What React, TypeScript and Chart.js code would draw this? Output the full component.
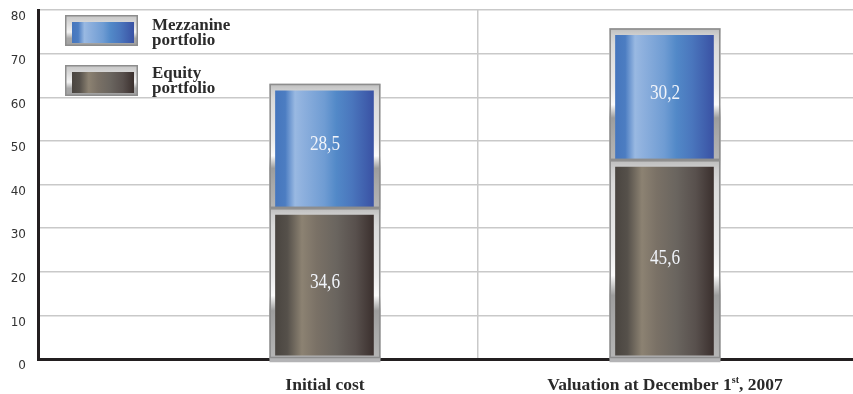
import React, { useEffect, useRef } from 'react';
import { Chart, registerables } from 'chart.js';

Chart.register(...registerables);

// ---- data ----
const categories = ['Initial cost', 'Valuation at December 1st, 2007'];
const equityValues = [34.6, 45.6];
const mezzanineValues = [28.5, 30.2];
const seriesNames = ['Equity portfolio', 'Mezzanine portfolio'];
const equityLegendLines = ['Equity', 'portfolio'];
const mezzanineLegendLines = ['Mezzanine', 'portfolio'];
const yMin = 0;
const yMax = 80;
const yStep = 10;

// ---- layout / style ----
const W = 853;
const H = 394;
const X_MIN = 0.156;
const X_MAX = 2.553;
const X_DIVIDER = 1.4485;
const BAR_W = 111;
const BORDER_L = 6;
const BORDER_R = 7;
const SERIF = '"Liberation Serif", "DejaVu Serif", serif';

type Stops = [number, string][];

const BLUE_STOPS: Stops = [
  [0, '#4676bd'],
  [0.1, '#4c7dc2'],
  [0.2, '#99b9e2'],
  [0.27, '#8fb1de'],
  [0.5, '#6f9cd3'],
  [0.62, '#5289c8'],
  [0.78, '#4a76bd'],
  [1, '#3a52a4'],
];
const EQUITY_STOPS: Stops = [
  [0, '#4a4540'],
  [0.12, '#55504a'],
  [0.27, '#8c8272'],
  [0.42, '#7a7166'],
  [0.62, '#6a655f'],
  [0.82, '#58504d'],
  [1, '#3b302e'],
];
const FRAME_STOPS: Stops = [
  [0, '#bdbdbd'],
  [0.05, '#cfcfcf'],
  [0.12, '#dadada'],
  [0.45, '#ececec'],
  [0.58, '#fbfbfb'],
  [0.68, '#9d9d9d'],
  [0.82, '#a9a9a9'],
  [1, '#b5b5b5'],
];
const LEGEND_FRAME_STOPS: Stops = [
  [0, '#c4c4c4'],
  [0.25, '#d9d9d9'],
  [0.55, '#f2f2f2'],
  [0.75, '#a8a8a8'],
  [1, '#a0a0a0'],
];

const stacked = [equityValues, mezzanineValues];
const fmt = (v: number) => v.toFixed(1).replace('.', ',');

function gradient(c: CanvasRenderingContext2D, x0: number, y0: number, x1: number, y1: number, stops: Stops) {
  const g = c.createLinearGradient(x0, y0, x1, y1);
  stops.forEach(([o, col]) => g.addColorStop(o, col));
  return g;
}

// horizontal metallic fill across the bar's inner face
const fillFor = (stops: Stops) => (ctx: any) => {
  const chart = ctx.chart;
  const xs = chart.scales?.x;
  if (ctx.type !== 'data' || !xs) return stops[0][1];
  const cx = xs.getPixelForValue(ctx.raw.x);
  if (!isFinite(cx)) return stops[0][1];
  return gradient(chart.ctx, cx - BAR_W / 2 + BORDER_L, 0, cx + BAR_W / 2 - BORDER_R, 0, stops);
};

// vertical silver frame for each stacked segment
const frameFor = (ctx: any) => {
  const chart = ctx.chart;
  const ys = chart.scales?.y;
  if (ctx.type !== 'data' || !ys) return '#c0c0c0';
  const di = ctx.datasetIndex;
  const i = ctx.dataIndex;
  let start = 0;
  for (let k = 0; k < di; k++) start += stacked[k][i];
  const end = start + stacked[di][i];
  const top = ys.getPixelForValue(end);
  const bot = ys.getPixelForValue(start);
  if (!isFinite(top) || !isFinite(bot) || top === bot) return '#c0c0c0';
  return gradient(chart.ctx, 0, top, 0, bot, FRAME_STOPS);
};

// outline, foot rim and value label on each segment
const barDecor = {
  id: 'barDecor',
  afterDatasetsDraw(chart: any) {
    const c: CanvasRenderingContext2D = chart.ctx;
    chart.data.datasets.forEach((ds: any, di: number) => {
      const meta = chart.getDatasetMeta(di);
      meta.data.forEach((el: any, i: number) => {
        const { x, y, base, width } = el.getProps(['x', 'y', 'base', 'width'], true);
        const l = x - width / 2;
        const t = Math.min(y, base);
        const b = Math.max(y, base);
        const h = b - t;

        c.save();
        if (di === 0) {
          // the frame's foot sits over the axis line
          c.fillStyle = '#b3b3b5';
          c.fillRect(l, b - 2, width, 6);
        }
        c.strokeStyle = '#8d8d8d';
        c.lineWidth = 1.5;
        c.strokeRect(l + 0.75, t + 0.75, width - 1.5, h - 1.5);
        c.restore();

        c.save();
        c.fillStyle = '#f1f4fa';
        c.font = `21px ${SERIF}`;
        c.textAlign = 'center';
        c.textBaseline = 'middle';
        c.translate(x, t + h / 2 - 1);
        c.scale(0.82, 1);
        c.fillText(fmt(ds.data[i].y), 0, 0);
        c.restore();
      });
    });
  },
};

// category names under the axis, with ordinal suffix raised
const categoryLabels = {
  id: 'categoryLabels',
  afterDraw(chart: any) {
    const c: CanvasRenderingContext2D = chart.ctx;
    const xs = chart.scales.x;
    const baseline = 390;
    categories.forEach((text, i) => {
      const cx = xs.getPixelForValue(i + 1);
      const m = text.match(/^(.*\d)(st|nd|rd|th)(.*)$/);
      const main = `700 17.5px ${SERIF}`;
      const sup = `700 10px ${SERIF}`;
      const parts: [string, string, number][] = m
        ? [[m[1], main, 0], [m[2], sup, -7], [m[3], main, 0]]
        : [[text, main, 0]];
      c.save();
      c.fillStyle = '#2a2a2a';
      c.textBaseline = 'alphabetic';
      c.textAlign = 'left';
      const widths = parts.map(([s, f]) => {
        c.font = f;
        return c.measureText(s).width;
      });
      let xx = cx - widths.reduce((a, b2) => a + b2, 0) / 2;
      parts.forEach(([s, f, dy], k) => {
        c.font = f;
        c.fillText(s, xx, baseline + dy);
        xx += widths[k];
      });
      c.restore();
    });
  },
};

// framed swatch legend in the upper left
const frameLegend = {
  id: 'frameLegend',
  afterDraw(chart: any) {
    const c: CanvasRenderingContext2D = chart.ctx;
    const items = [
      { lines: mezzanineLegendLines, stops: BLUE_STOPS, top: 15, textY: 30 },
      { lines: equityLegendLines, stops: EQUITY_STOPS, top: 65, textY: 78 },
    ];
    const left = 65;
    const sw = 73;
    const sh = 31;
    items.forEach((it) => {
      c.save();
      c.fillStyle = gradient(c, 0, it.top, 0, it.top + sh, LEGEND_FRAME_STOPS);
      c.fillRect(left, it.top, sw, sh);
      c.fillStyle = gradient(c, left + 7, 0, left + sw - 4, 0, it.stops);
      c.fillRect(left + 7, it.top + 7, sw - 11, sh - 10);
      c.strokeStyle = '#8d8d8d';
      c.lineWidth = 1.5;
      c.strokeRect(left + 0.75, it.top + 0.75, sw - 1.5, sh - 1.5);
      c.fillStyle = '#2b2b2b';
      c.font = `700 17px ${SERIF}`;
      c.textAlign = 'left';
      c.textBaseline = 'alphabetic';
      it.lines.forEach((ln, k) => c.fillText(ln, 152, it.textY + k * 15));
      c.restore();
    });
  },
};

export default function App() {
  const ref = useRef<HTMLCanvasElement | null>(null);

  useEffect(() => {
    document.body.style.margin = '0';
    const canvas = ref.current;
    if (!canvas) return;
    const chart = new Chart(canvas, {
      type: 'bar',
      data: {
        datasets: [
          {
            label: seriesNames[0],
            data: equityValues.map((v, i) => ({ x: i + 1, y: v })),
            backgroundColor: fillFor(EQUITY_STOPS),
            borderColor: frameFor,
            borderWidth: { top: 7, left: BORDER_L, right: BORDER_R, bottom: 3 },
            borderSkipped: false,
            barThickness: BAR_W,
          },
          {
            label: seriesNames[1],
            data: mezzanineValues.map((v, i) => ({ x: i + 1, y: v })),
            backgroundColor: fillFor(BLUE_STOPS),
            borderColor: frameFor,
            borderWidth: { top: 7, left: BORDER_L, right: BORDER_R, bottom: 1 },
            borderSkipped: false,
            barThickness: BAR_W,
          },
        ],
      } as any,
      options: {
        animation: false,
        responsive: false,
        layout: { padding: { top: 10, right: 0, left: 0, bottom: 0 } },
        plugins: {
          legend: { display: false },
          tooltip: { enabled: false },
        },
        scales: {
          x: {
            type: 'linear',
            min: X_MIN,
            max: X_MAX,
            offset: false,
            stacked: true,
            afterBuildTicks: (s: any) => {
              s.ticks = [{ value: X_DIVIDER }];
            },
            afterFit: (s: any) => {
              s.height = 35;
            },
            ticks: { display: false },
            grid: { offset: false, color: '#c9c9c9', lineWidth: 1.5, drawTicks: false },
            border: { display: true, color: '#231f20', width: 3 },
          },
          y: {
            min: yMin,
            max: yMax,
            stacked: true,
            ticks: {
              stepSize: yStep,
              padding: 12,
              color: '#333333',
              font: { family: '"DejaVu Sans", sans-serif', size: 12 },
              callback: (v: any) => ['', String(v)],
            },
            afterFit: (s: any) => {
              s.width = 38;
              s.paddingTop = 0;
              s.paddingBottom = 0;
            },
            grid: { color: '#c9c9c9', lineWidth: 1.5, drawTicks: false },
            border: { display: true, color: '#231f20', width: 3 },
          },
        },
      } as any,
      plugins: [barDecor, categoryLabels, frameLegend],
    });
    return () => chart.destroy();
  }, []);

  return (
    <div style={{ width: W, height: H }}>
      <canvas ref={ref} width={W} height={H} />
    </div>
  );
}
